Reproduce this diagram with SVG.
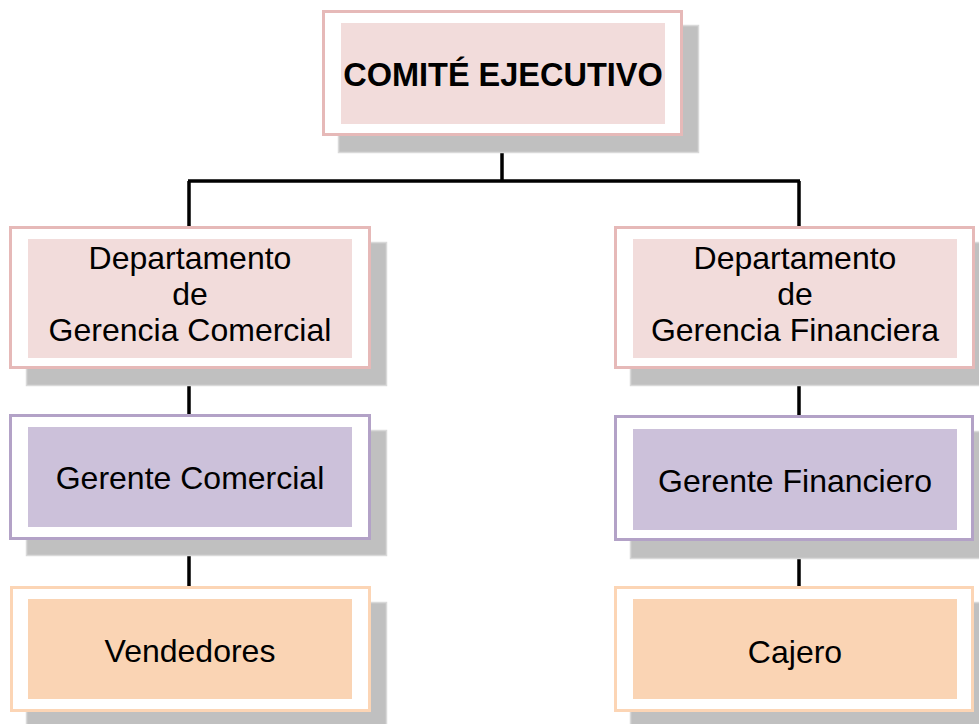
<svg xmlns="http://www.w3.org/2000/svg" width="979" height="724" viewBox="0 0 979 724">
<style>
.shadow{fill:#c0c0c0;stroke:#d9d9d9;stroke-width:1.5}
.outer{fill:#ffffff;stroke-width:3}
.pink .outer{stroke:#e6b9b8}
.pink .inner{fill:#f2dcdb}
.purple .outer{stroke:#b3a2c7}
.purple .inner{fill:#ccc1da}
.orange .outer{stroke:#fcd5b5}
.orange .inner{fill:#fad4b4}
text{font-family:"Liberation Sans",Arial,sans-serif;font-size:32px;fill:#000;text-anchor:middle}
.bold{font-weight:bold;font-size:32.5px}
.conn{stroke:#000;stroke-width:3.5;fill:none}
</style>
<rect width="979" height="724" fill="#ffffff"/>
<g id="connectors">
<path class="conn" d="M502,136 V181 M188,181 H800 M189,181 V226 M189,369 V414 M189,540 V586 M799,181 V226 M799,369 V415 M799,541 V586"/>
</g>
<g id="comite" class="pink">
<rect class="shadow" x="338.5" y="25.5" width="360" height="127"/>
<rect class="outer" x="323.5" y="11.5" width="358" height="123"/>
<rect class="inner" x="341" y="23" width="324" height="101"/>
<text class="bold" x="503" y="86">COMITÉ EJECUTIVO</text>
</g>
<g id="dep-comercial" class="pink">
<rect class="shadow" x="26.5" y="242.5" width="360" height="143"/>
<rect class="outer" x="10.5" y="227.5" width="359" height="140"/>
<rect class="inner" x="28" y="239" width="324" height="119"/>
<text x="190" y="269">Departamento</text>
<text x="190" y="305">de</text>
<text x="190" y="341">Gerencia Comercial</text>
</g>
<g id="dep-financiera" class="pink">
<rect class="shadow" x="630.5" y="242.5" width="360" height="143"/>
<rect class="outer" x="615.5" y="227.5" width="358" height="140"/>
<rect class="inner" x="633" y="239" width="324" height="119"/>
<text x="795" y="269">Departamento</text>
<text x="795" y="305">de</text>
<text x="795" y="341">Gerencia Financiera</text>
</g>
<g id="gerente-comercial" class="purple">
<rect class="shadow" x="26.5" y="430.5" width="360" height="125"/>
<rect class="outer" x="10.5" y="415.5" width="359" height="123"/>
<rect class="inner" x="28" y="427" width="324" height="100"/>
<text x="190" y="489">Gerente Comercial</text>
</g>
<g id="gerente-financiero" class="purple">
<rect class="shadow" x="630.5" y="431.5" width="360" height="127"/>
<rect class="outer" x="615.5" y="416.5" width="357" height="123"/>
<rect class="inner" x="633" y="429" width="324" height="101"/>
<text x="795" y="492">Gerente Financiero</text>
</g>
<g id="vendedores" class="orange">
<rect class="shadow" x="26.5" y="602.5" width="360" height="130"/>
<rect class="outer" x="11.5" y="587.5" width="358" height="123"/>
<rect class="inner" x="28" y="599" width="324" height="100"/>
<text x="190" y="662">Vendedores</text>
</g>
<g id="cajero" class="orange">
<rect class="shadow" x="630.5" y="602.5" width="360" height="130"/>
<rect class="outer" x="615.5" y="587.5" width="357" height="123"/>
<rect class="inner" x="633" y="599" width="324" height="100"/>
<text x="795" y="663">Cajero</text>
</g>
</svg>
